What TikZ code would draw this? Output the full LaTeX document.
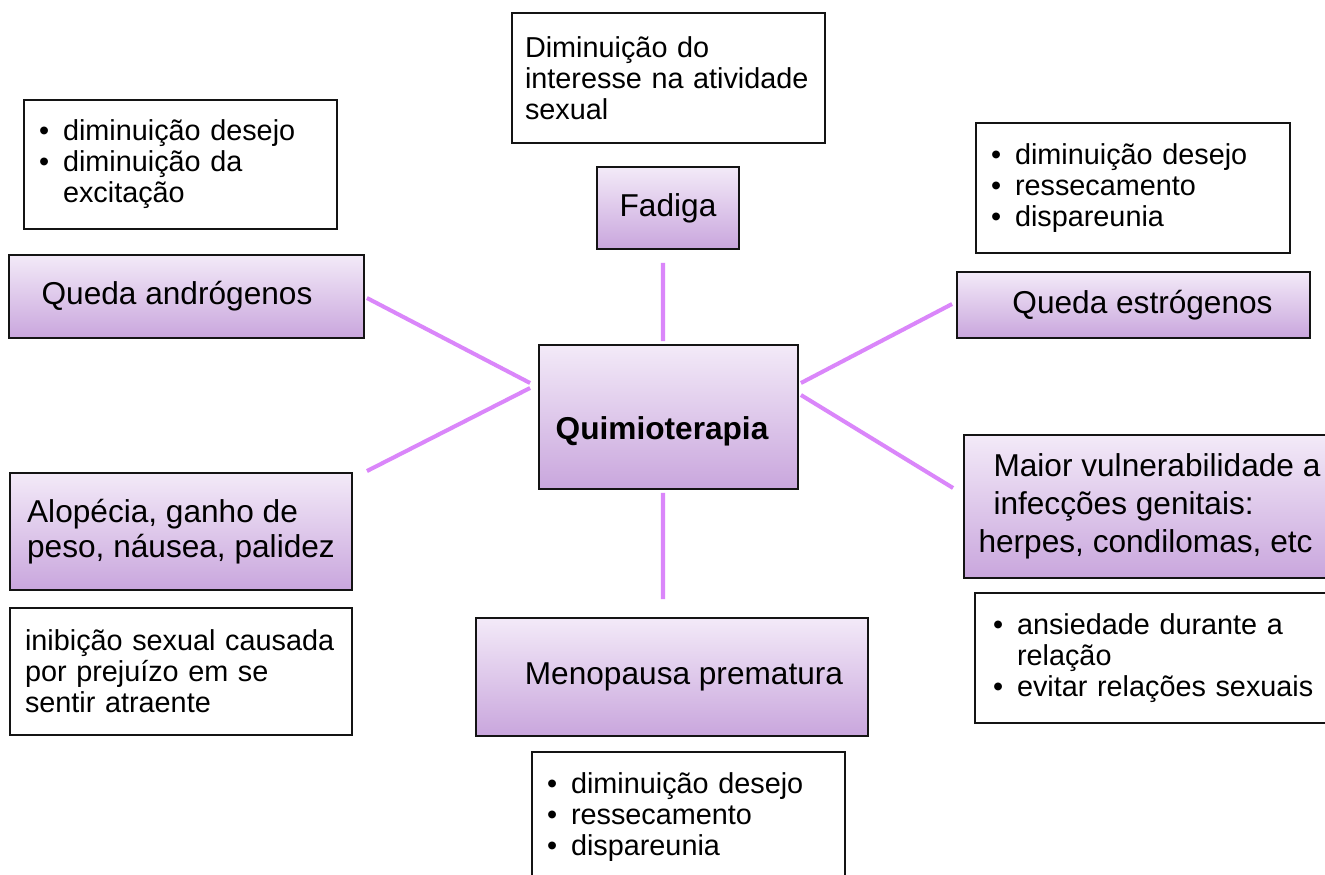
\documentclass[tikz,border=0pt]{standalone}
\usepackage{fontspec}
\setmainfont{Liberation Sans}
\definecolor{boxtop}{RGB}{243,234,248}
\definecolor{boxbot}{RGB}{201,166,221}
\definecolor{linkviolet}{RGB}{218,134,250}
\definecolor{edge}{RGB}{20,20,20}
\newcommand{\bul}{\makebox[0.48cm][l]{\textbullet}}
\newcommand{\cont}{\hspace*{0.48cm}}

\begin{document}
\begin{tikzpicture}[x=0.02cm,y=-0.02cm,
	mainbox/.style={draw=edge,line width=1.1pt,top color=boxtop,bottom color=boxbot,inner sep=0pt,align=center,font=\fontsize{18}{20}\selectfont},
	notebox/.style={draw=edge,line width=1.1pt,fill=white,inner xsep=0.3cm,inner ysep=0pt,align=left,font=\fontsize{16.4}{17.6}\selectfont},
	link/.style={draw=linkviolet,line width=2.3pt}]

\useasboundingbox[fill=white] (0,0) rectangle (1325,875);

\node[notebox,inner xsep=0.26cm,text width=5.74cm,minimum height=2.6cm] (fadigatxt) at (668.5,78) {Diminuição do\\interesse na atividade\\sexual};
\node[mainbox,minimum width=2.84cm,minimum height=1.64cm] (fadiga) at (668,208) {Fadiga};

\node[notebox,text width=5.66cm,minimum height=2.58cm] (androtxt) at (180.5,164.5) {\bul diminuição desejo\\\bul diminuição da\\\cont excitação};
\node[mainbox,minimum width=7.1cm,minimum height=1.66cm] (andro) at (186.5,296.5) {Queda andrógenos\hspace*{0.38cm}};

\node[notebox,text width=5.68cm,minimum height=2.6cm] (estrotxt) at (1133,188) {\bul diminuição desejo\\\bul ressecamento\\\bul dispareunia};
\node[mainbox,minimum width=7.06cm,minimum height=1.32cm] (estro) at (1133.5,305) {\hspace*{0.36cm}Queda estrógenos};

\node[mainbox,minimum width=5.18cm,minimum height=2.88cm,font=\fontsize{18}{20}\selectfont\bfseries,text height=30pt,text depth=4pt] (quimio) at (668.5,417) {Quimioterapia\hspace*{0.26cm}};

\node[mainbox,minimum width=7.42cm,minimum height=2.86cm,align=left,font=\fontsize{18}{21.5}\selectfont] (infec) at (1149.5,506.5) {\hspace*{0.3cm}Maior vulnerabilidade a\\\hspace*{0.3cm}infecções genitais:\\herpes, condilomas, etc};
\node[notebox,inner xsep=0.36cm,text width=6.58cm,minimum height=2.6cm] (infectxt) at (1157.5,658) {\bul ansiedade durante a\\\cont relação\\\bul evitar relações sexuais};

\node[mainbox,minimum width=6.84cm,minimum height=2.34cm,align=left] (alop) at (181,531.5) {Alopécia, ganho de\\peso, náusea, palidez};
\node[notebox,text width=6.24cm,minimum height=2.54cm] (aloptxt) at (181,671.5) {inibição sexual causada\\por prejuízo em se\\sentir atraente};

\node[mainbox,minimum width=7.84cm,minimum height=2.36cm] (meno) at (672,677) {\hspace*{0.48cm}Menopausa prematura};
\node[notebox,anchor=north,text width=5.66cm,inner ysep=0.42cm] (menotxt) at (688.5,751) {\bul diminuição desejo\\\bul ressecamento\\\bul dispareunia\\[1.2cm]\mbox{}};

\draw[link] ([xshift=-0.11cm,yshift=0.06cm]quimio.north) -- ([xshift=-0.1cm,yshift=-0.26cm]fadiga.south);
\draw[link] ([xshift=-0.11cm,yshift=-0.06cm]quimio.south) -- ([xshift=-0.18cm,yshift=0.36cm]meno.north);
\draw[link] ([xshift=-0.16cm,yshift=0.68cm]quimio.west) -- ([xshift=0.04cm,yshift=-0.03cm]andro.east);
\draw[link] ([xshift=-0.16cm,yshift=0.58cm]quimio.west) -- ([xshift=0.28cm,yshift=0.02cm]alop.north east);
\draw[link] ([xshift=0.04cm,yshift=0.68cm]quimio.east) -- ([xshift=-0.08cm,yshift=0.02cm]estro.west);
\draw[link] ([xshift=0.04cm,yshift=0.44cm]quimio.east) -- ([xshift=-0.2cm,yshift=0.37cm]infec.west);

\end{tikzpicture}
\end{document}
